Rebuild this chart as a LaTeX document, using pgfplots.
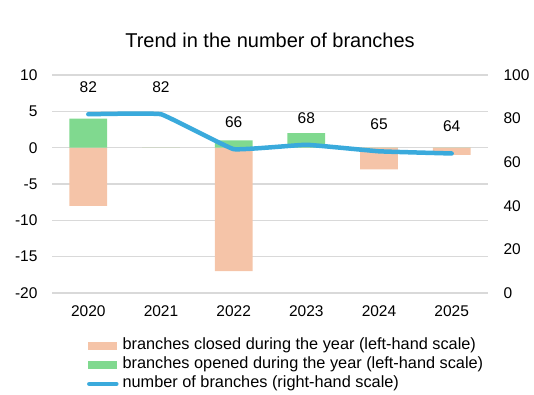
\documentclass[border=0pt]{standalone}
\usepackage{pgfplots}
\pgfplotsset{compat=1.18}
\usepackage{fontspec}
\setmainfont{Liberation Sans}
\definecolor{closedc}{HTML}{F5C4A8}
\definecolor{openc}{HTML}{80D98F}
\definecolor{linec}{HTML}{3AAADC}
\definecolor{gridc}{HTML}{D9D9D9}
\begin{document}
\begin{tikzpicture}
\path[use as bounding box] (0,0) rectangle (534pt,394pt);
\begin{axis}[
  at={(52pt,101pt)}, anchor=south west,
  scale only axis, width=436pt, height=218pt,
  xmin=-0.5, xmax=5.5, ymin=-20, ymax=10,
  xtick={0,...,5}, xticklabels={2020,2021,2022,2023,2024,2025},
  ytick={-20,-15,...,10},
  ymajorgrids, grid style={gridc, line width=1.2pt},
  axis line style={draw=none}, major tick style={draw=none},
  tick label style={font=\fontsize{15.5}{17}\selectfont},
  /pgf/number format/assume math mode=true,
  yticklabel style={anchor=east, xshift=-11pt},
  xticklabel style={yshift=-9pt},
  title={Trend in the number of branches},
  title style={font=\fontsize{20}{22}\selectfont, at={(0.5,1)}, anchor=center, yshift=29pt},
  legend style={draw=none, fill=none, at={(axis description cs:0.08,-0.205)}, anchor=north west,
    font=\fontsize{16.3}{18}\selectfont, row sep=3pt, inner sep=0pt,
    nodes={inner xsep=4pt, inner ysep=0pt, text height=12pt, text depth=4pt}},
  legend cell align=left,
  legend image code/.code={\fill[#1] (0pt,-4pt) rectangle (29pt,4pt);},
]
\addplot[ybar, bar width=0.52, bar shift=0pt, fill=closedc, draw=none] coordinates {(0,-8) (1,0) (2,-17) (3,0) (4,-3) (5,-1)};
\addlegendentry{branches closed during the year (left-hand scale)}
\addplot[ybar, bar width=0.52, bar shift=0pt, fill=openc, draw=none] coordinates {(0,4) (1,0) (2,1) (3,2) (4,0) (5,0)};
\addlegendentry{branches opened during the year (left-hand scale)}
\addlegendimage{legend image code/.code={\draw[linec, line width=4.5pt, line cap=round] (1pt,0pt) -- (28pt,0pt);}}
\addlegendentry{number of branches (right-hand scale)}
\end{axis}
\begin{axis}[
  at={(52pt,101pt)}, anchor=south west,
  scale only axis, width=436pt, height=218pt,
  xmin=-0.5, xmax=5.5, ymin=0, ymax=100,
  xtick=\empty, ytick={0,20,...,100},
  axis y line*=right, axis x line=none,
  axis line style={draw=none}, major tick style={draw=none},
  tick label style={font=\fontsize{15.5}{17}\selectfont},
  /pgf/number format/assume math mode=true,
  yticklabel style={anchor=west, xshift=12pt},
]
\addplot[linec, line width=4.5pt, smooth, tension=0.15, line cap=round,
  nodes near coords, nodes near coords style={black, anchor=center, yshift=27pt, font=\fontsize{15.5}{17}\selectfont}]
  coordinates {(0,82) (1,82) (2,66) (3,68) (4,65) (5,64)};
\end{axis}
\end{tikzpicture}
\end{document}
